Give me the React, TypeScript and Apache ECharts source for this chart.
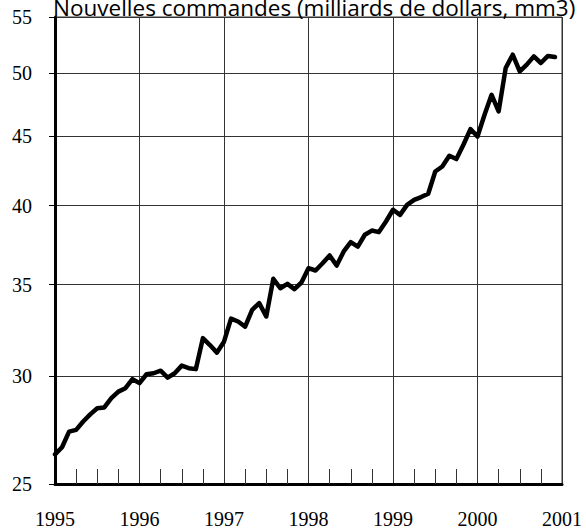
import React, { useEffect, useRef } from "react";
import * as echarts from "echarts";

const startYear = 1995;
const yearTicks = [1995, 1996, 1997, 1998, 1999, 2000, 2001];
const yTicks = [25, 30, 35, 40, 45, 50, 55];
const titleText = "Nouvelles commandes (milliards de dollars, mm3)";

// monthly values, Jan 1995 .. Dec 2000
const v1995 = [26.28, 26.6, 27.31, 27.39, 27.78, 28.12, 28.41, 28.45, 28.9, 29.22, 29.39, 29.84];
const v1996 = [29.64, 30.09, 30.14, 30.27, 29.92, 30.14, 30.53, 30.4, 30.35, 31.98, 31.61, 31.21];
const v1997 = [31.79, 33.05, 32.89, 32.61, 33.54, 33.93, 33.17, 35.35, 34.79, 35.05, 34.74, 35.13];
const v1998 = [35.99, 35.85, 36.29, 36.77, 36.15, 37.02, 37.61, 37.33, 38.08, 38.35, 38.25, 38.94];
const v1999 = [39.72, 39.38, 40.05, 40.39, 40.58, 40.81, 42.37, 42.73, 43.51, 43.27, 44.33, 45.52];
const v2000 = [44.95, 46.63, 48.23, 46.89, 50.46, 51.61, 50.17, 50.75, 51.46, 50.89, 51.5, 51.4];

const values = [...v1995, ...v1996, ...v1997, ...v1998, ...v1999, ...v2000];

export default function App() {
  const ref = useRef<HTMLDivElement>(null);
  useEffect(() => {
    if (!ref.current) return;
    const chart = echarts.init(ref.current, null, { renderer: "svg" });
    const data = values.map((v, i) => [startYear + i / 12, Math.log(v)]);
    const logTicks = yTicks.map((t) => Math.log(t));
    chart.setOption({
      animation: false,
      backgroundColor: "#fff",
      title: {
        text: titleText,
        left: 48,
        top: -9,
        textStyle: {
          fontFamily: "Open Sans",
          fontSize: 22.5,
          fontWeight: "normal",
          color: "#000",
        },
      },
      grid: {
        left: 55,
        right: 24,
        top: 17,
        bottom: 46,
        show: true,
        borderColor: "#333",
        borderWidth: 1,
      },
      xAxis: {
        type: "value",
        min: yearTicks[0],
        max: yearTicks[yearTicks.length - 1],
        interval: 1,
        axisLine: { show: true, onZero: false, lineStyle: { color: "#000", width: 3 } },
        axisTick: { show: true, inside: true, length: 0 },
        minorTick: { show: true, splitNumber: 4, length: 15, lineStyle: { color: "#333", width: 1 } },
        splitLine: { show: true, lineStyle: { color: "#333", width: 1 } },
        axisLabel: {
          formatter: (v: number) => String(Math.round(v)),
          fontFamily: "Liberation Serif",
          fontSize: 20,
          color: "#000",
          margin: 25,
        },
      },
      yAxis: {
        type: "value",
        min: Math.log(yTicks[0]),
        max: Math.log(yTicks[yTicks.length - 1]),
        axisLine: { show: true, onZero: false, lineStyle: { color: "#000", width: 3 } },
        axisTick: { show: true, length: 6, customValues: logTicks, lineStyle: { color: "#000", width: 1 } },
        splitLine: { show: true, lineStyle: { color: "#333", width: 1 } },
        axisLabel: {
          customValues: logTicks,
          formatter: (v: number) => String(Math.round(Math.exp(v))),
          fontFamily: "Liberation Serif",
          fontSize: 20,
          color: "#000",
          margin: 23,
        },
      },
      series: [
        {
          type: "line",
          data,
          showSymbol: false,
          symbol: "none",
          lineStyle: { color: "#000", width: 4.5, join: "round", cap: "round" },
          z: 1,
        },
      ],
    });
    return () => chart.dispose();
  }, []);
  return (
    <div
      ref={ref}
      style={{ position: "fixed", left: 0, top: 0, width: 586, height: 530 }}
    />
  );
}
